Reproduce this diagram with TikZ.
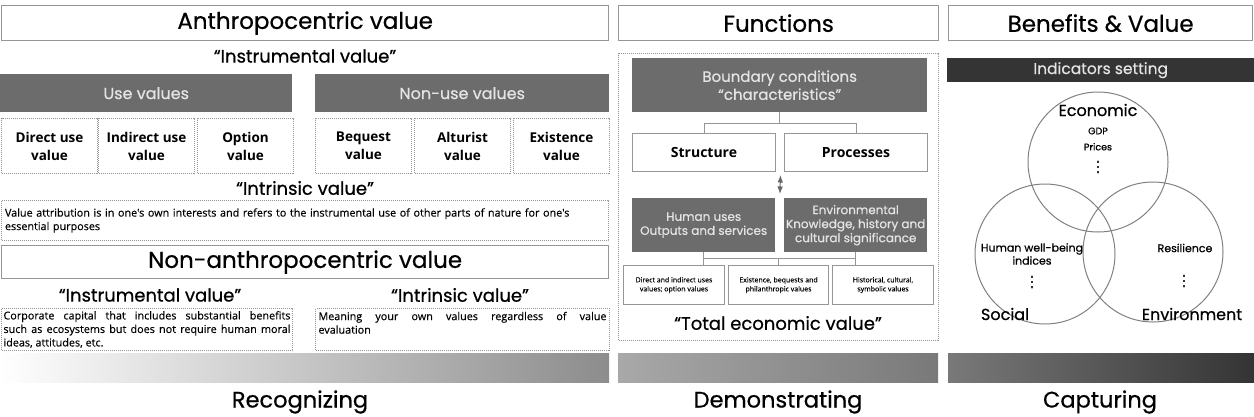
\documentclass[tikz,border=0pt]{standalone}
\usepackage{fontspec}
\setmainfont{Open Sans}
\newfontfamily\headfont{Poppins}[FakeBold=0.6]
\newfontfamily\bodyfont{Open Sans}[FakeBold=0.3]
\newfontfamily\symfont{DejaVu Sans}[FakeBold=0.5]
\usetikzlibrary{positioning, arrows.meta}
\definecolor{PanelGray}{RGB}{108, 108, 108}
\definecolor{DarkBar}{RGB}{52, 52, 52}
\definecolor{LineGray}{RGB}{150, 150, 150}
\definecolor{PaleText}{RGB}{228, 228, 228}

\tikzset{
  headbox/.style={draw=LineGray, line width=1.3pt, anchor=north west, inner sep=0pt,
    font=\headfont\fontsize{23}{26}\selectfont},
  graybox/.style={fill=PanelGray, anchor=north west, inner sep=0pt, text=PaleText, align=center},
  dotbox/.style={draw=LineGray, densely dotted, line width=1pt, anchor=north west, inner sep=0pt},
  plainbox/.style={draw=LineGray, line width=1pt, anchor=north west, inner sep=0pt, align=center},
  valbox/.style={dotbox, minimum width=96pt, minimum height=55pt, align=center,
    font=\bfseries\fontsize{13.5}{18}\selectfont},
  parbox/.style={dotbox, font=\bodyfont\fontsize{10.8}{13.5}\selectfont},
  tev/.style={plainbox, minimum height=39pt, font=\bodyfont\fontsize{7}{9}\selectfont},
  quotetxt/.style={font=\headfont\fontsize{18}{20}\selectfont},
  stage/.style={font=\headfont\fontsize{22.5}{24}\selectfont},
  tree/.style={draw=LineGray, line width=1pt},
  venn/.style={circle, draw=gray, line width=1pt, minimum size=140pt, inner sep=0pt},
  vennlbl/.style={font=\headfont\fontsize{16}{18}\selectfont},
  vennitem/.style={font=\headfont\fontsize{11}{13}\selectfont, align=center},
  morevals/.style={inner sep=0pt, text=black!80, font=\symfont\fontsize{15}{15}\selectfont},
}

\begin{document}
\begin{tikzpicture}[x=1pt, y=-1pt]
  \useasboundingbox (0,0) rectangle (1254,416);

  % Anthropocentric panel
  \node[headbox, minimum width=607pt, minimum height=35pt] (anthro) at (1,5) {Anthropocentric value};
  \node[quotetxt] (instA) at (305,56) {“Instrumental value”};
  \node[graybox, minimum width=292pt, minimum height=38pt, font=\headfont\fontsize{16}{18}\selectfont] (use) at (0,74) {Use values};
  \node[graybox, minimum width=294pt, minimum height=38pt, font=\headfont\fontsize{16}{18}\selectfont] (nonuse) at (315,74) {Non-use values};
  \foreach \x/\t [count=\i] in {1/{Direct use\\value}, 98/{Indirect use\\value}, 197/{Option\\value},
                                315/{Bequest\\value}, 414/{Alturist\\value}, 513/{Existence\\value}} {
    \node[valbox] (val\i) at (\x,118) {\t};
  }

  % Intrinsic value
  \node[quotetxt] (intrA) at (305,188) {“Intrinsic value”};
  \node[parbox, minimum width=607pt, minimum height=40pt, text width=600pt, align=left] (attrib) at (1,200)
    {Value attribution is in one's own interests and refers to the instrumental use of other parts of nature for one's\\essential purposes\\[2pt]};

  % Non-anthropocentric panel
  \node[headbox, minimum width=607pt, minimum height=33pt] (nonanthro) at (1,245) {Non-anthropocentric value};
  \node[quotetxt] (instN) at (150,295) {“Instrumental value”};
  \node[quotetxt] (intrN) at (460,295) {“Intrinsic value”};
  \node[parbox, minimum width=291pt, minimum height=42pt, text width=287pt, align=justify] (corp) at (1,308)
    {Corporate capital that includes substantial benefits\linebreak such as ecosystems but does not require human moral\linebreak ideas, attitudes, etc.};
  \node[parbox, minimum width=294pt, minimum height=42pt, text width=288pt, align=justify] (mean) at (315,308)
    {Meaning your own values regardless of value\linebreak evaluation\\\mbox{}};

  % Functions panel
  \node[headbox, minimum width=320pt, minimum height=35pt] (func) at (618,5) {Functions};
  \node[dotbox, minimum width=320pt, minimum height=287pt] (frame) at (618,53) {};
  \node[graybox, minimum width=295pt, minimum height=54pt, font=\headfont\fontsize{15}{18}\selectfont] (bound) at (632,58)
    {Boundary conditions\\“characteristics”};
  \node[plainbox, minimum width=143pt, minimum height=38pt, font=\bfseries\fontsize{14}{16}\selectfont] (struct) at (632,133) {Structure};
  \node[plainbox, minimum width=143pt, minimum height=38pt, font=\bfseries\fontsize{14}{16}\selectfont] (proc) at (784,133) {Processes};
  \draw[tree] (bound.south) -- ++(0,11) coordinate (bsplit);
  \draw[tree] (bsplit) -| (struct.north);
  \draw[tree] (bsplit) -| (proc.north);

  \node[graybox, minimum width=143pt, minimum height=54pt, font=\headfont\fontsize{12}{14}\selectfont] (human) at (632,198)
    {Human uses\\Outputs and services};
  \node[graybox, minimum width=143pt, minimum height=54pt, font=\headfont\fontsize{12}{14}\selectfont] (env) at (784,198)
    {Environmental\\Knowledge, history and\\cultural significance};
  \draw[Latex-Latex, gray!80!black, line width=1pt, shorten <=3pt, shorten >=4pt]
    ([xshift=4.5pt]struct.south east) -- ([xshift=4.5pt]human.north east);

  \node[tev, minimum width=101pt] (direct) at (623,265) {Direct and indirect uses\\values; option values};
  \node[tev, minimum width=100pt] (exist) at (728,265) {Existence, bequests and\\philanthropic values};
  \node[tev, minimum width=101pt] (hist) at (832,265) {Historical, cultural,\\symbolic values};
  \draw[tree] (human.south) -- ++(0,6) coordinate (hsplit) -| (env.south);
  \draw[tree] (hsplit) -- (hsplit |- direct.north);
  \draw[tree] (exist.north) -- (exist.north |- hsplit);
  \draw[tree] (env.south |- hsplit) -- (env.south |- hist.north);
  \node[quotetxt] (total) at (778,323) {“Total economic value”};

  % Benefits panel
  \node[headbox, minimum width=304pt, minimum height=35pt] (benef) at (948,5) {Benefits \& Value};
  \node[graybox, fill=DarkBar, minimum width=307pt, minimum height=24pt, font=\headfont\fontsize{15.5}{17}\selectfont] (indic) at (947,58)
    {Indicators setting};
  \node[venn] (econ) at (1098,162) {};
  \node[venn] (soc) at (1045,254) {};
  \node[venn] (envr) at (1153,252) {};
  \node[vennlbl] (econlbl) at (1098,110) {Economic};
  \node[vennitem, font=\headfont\fontsize{9.5}{16}\selectfont] (gdp) at (1098,139) {GDP\\Prices};
  \node[morevals] (econdots) at (1098,167) {⋮};
  \node[vennitem] (hwb) at (1032,254) {Human well-being\\indices};
  \node[morevals] (socdots) at (1032,282) {⋮};
  \node[vennitem] (resil) at (1185,248) {Resilience};
  \node[morevals] (envdots) at (1184,281) {⋮};
  \node[vennlbl] (soclbl) at (1005,314) {Social};
  \node[vennlbl] (envlbl) at (1192,314) {Environment};

  % Stage bars
  \shade[left color=white, right color=gray!90] (0,353) rectangle (609,382);
  \shade[left color=gray!68, right color=gray!95!black] (618,353) rectangle (938,382);
  \shade[left color=gray!95!black, right color=DarkBar] (948,353) rectangle (1254,382);
  \node[stage] (recog) at (300,402) {Recognizing};
  \node[stage] (demon) at (778,402) {Demonstrating};
  \node[stage] (capt) at (1100,402) {Capturing};
\end{tikzpicture}
\end{document}
